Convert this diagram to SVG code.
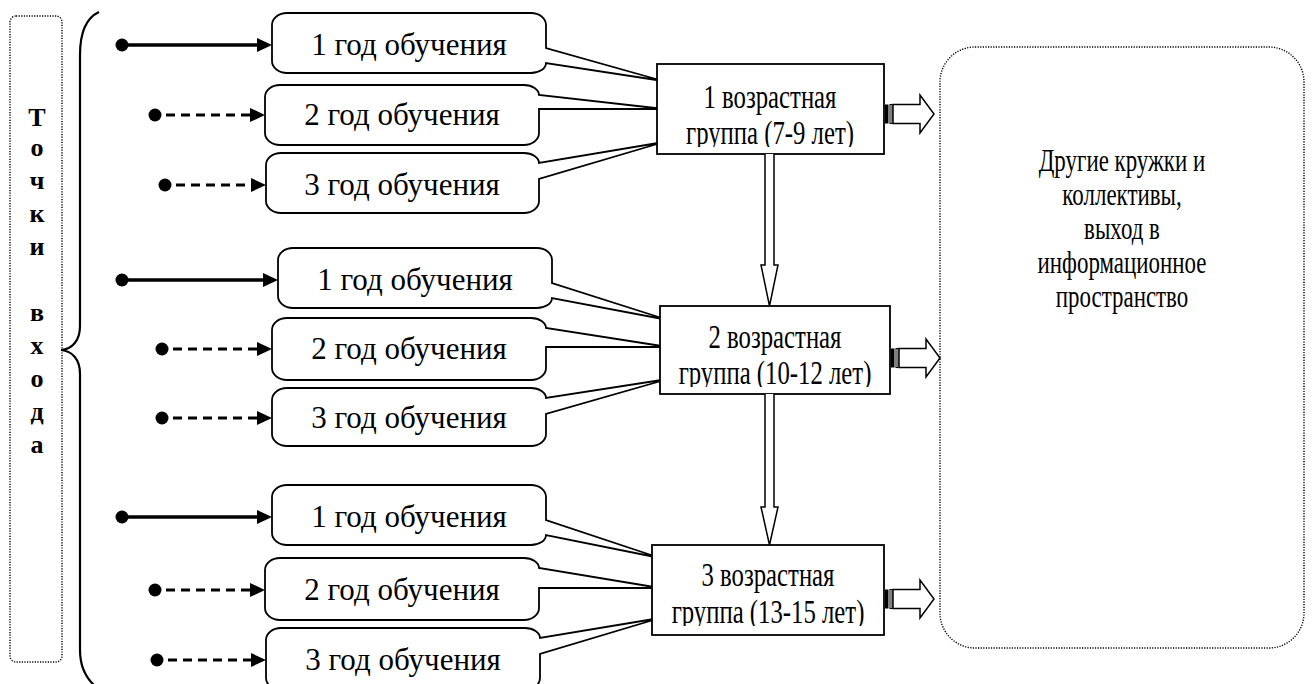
<svg xmlns="http://www.w3.org/2000/svg" width="1316" height="684" viewBox="0 0 1316 684">
  <style>
    .bg { fill: #ffffff; }
    .dotted { fill: none; stroke: #000; stroke-width: 1.4; stroke-dasharray: 1.2 1.4; }
    .callout { fill: #ffffff; stroke: #000; stroke-width: 1.8; stroke-linejoin: miter; }
    .group-box { fill: #ffffff; stroke: #000; stroke-width: 1.8; }
    .year { font-family: "Liberation Serif", "Times New Roman", serif; font-size: 31px; fill: #000; text-anchor: middle; }
    .age { font-family: "Liberation Serif", "Times New Roman", serif; font-size: 33px; fill: #000; text-anchor: middle; }
    .side { font-family: "Liberation Serif", "Times New Roman", serif; font-size: 31px; fill: #000; text-anchor: middle; }
    .letter { font-family: "Liberation Serif", "Times New Roman", serif; font-size: 26px; font-weight: bold; fill: #000; text-anchor: middle; }
    .brace { fill: none; stroke: #000; stroke-width: 2.2; }
    .solid { fill: none; stroke: #000; stroke-width: 3.4; }
    .dashed { fill: none; stroke: #000; stroke-width: 3; stroke-dasharray: 9 6; }
    .dot { fill: #000; }
    .head { fill: #000; }
    .hollow { fill: #ffffff; stroke: #000; stroke-width: 1.5; stroke-linejoin: miter; }
  </style>
  <defs>
    <!-- striped block arrow pointing right, origin at tail centre -->
    <g id="stripe-arrow">
      <rect x="0" y="-9.5" width="3.5" height="19" fill="#000"/>
      <rect x="5" y="-9.5" width="2" height="19" fill="#fff" stroke="#000" stroke-width="1"/>
      <path d="M8,-9.5 H35 V-19 L49,0 L35,19 V9.5 H8 Z" class="hollow"/>
    </g>
    <!-- filled arrowhead, tip at origin pointing right -->
    <path id="tip" d="M-15,-7 L0,0 L-15,7 Z"/>
    <clipPath id="clip-age1"><rect x="657" y="64" width="227" height="83"/></clipPath>
    <clipPath id="clip-age2"><rect x="660" y="306" width="230" height="81"/></clipPath>
    <clipPath id="clip-age3"><rect x="652" y="545" width="232" height="81"/></clipPath>
  </defs>

  <rect class="bg" x="0" y="0" width="1316" height="684"/>

  <!-- entry points column -->
  <g id="entry-points">
    <rect class="dotted" x="10" y="16" width="52" height="646" rx="6"/>
    <text class="letter" x="37" y="126">Т</text>
    <text class="letter" x="37" y="156">о</text>
    <text class="letter" x="37" y="189">ч</text>
    <text class="letter" x="37" y="222">к</text>
    <text class="letter" x="37" y="255">и</text>
    <text class="letter" x="37" y="321">в</text>
    <text class="letter" x="37" y="354">х</text>
    <text class="letter" x="37" y="387">о</text>
    <text class="letter" x="37" y="420">д</text>
    <text class="letter" x="37" y="453">а</text>
  </g>

  <g id="brace">
    <path class="brace" d="M99,12 C86,18 80,32 80,55 V326 C80,341 72,349 61,350 C72,351 80,359 80,374 V650 C80,668 86,678 95,686"/>
  </g>

  <!-- year-of-study callouts, group 1 -->
  <g id="g1-year1">
    <path class="callout" d="M287,13 H531 A15 12 0 0 1 546,25 V48 L663,81 L546,63 A15 10 0 0 1 531,73 H287 A15 12 0 0 1 272,61 V25 A15 12 0 0 1 287,13 Z"/>
    <text class="year" x="409" y="55">1 год обучения</text>
  </g>
  <g id="g1-year2">
    <path class="callout" d="M280,85 H524 A15 10 0 0 1 539,95 L664,109 L539,109 V133 A15 12 0 0 1 524,145 H280 A15 12 0 0 1 265,133 V97 A15 12 0 0 1 280,85 Z"/>
    <text class="year" x="402" y="125">2 год обучения</text>
  </g>
  <g id="g1-year3">
    <path class="callout" d="M281,153 H524 A15 10 0 0 1 539,163 L664,142 L539,179 V201 A15 12 0 0 1 524,213 H281 A15 12 0 0 1 266,201 V165 A15 12 0 0 1 281,153 Z"/>
    <text class="year" x="402" y="195">3 год обучения</text>
  </g>

  <!-- group 2 -->
  <g id="g2-year1">
    <path class="callout" d="M293,248 H537 A15 12 0 0 1 552,260 V283 L668,320 L552,298 A15 10 0 0 1 537,308 H293 A15 12 0 0 1 278,296 V260 A15 12 0 0 1 293,248 Z"/>
    <text class="year" x="415" y="290">1 год обучения</text>
  </g>
  <g id="g2-year2">
    <path class="callout" d="M287,318 H531 A15 10 0 0 1 546,328 L668,347 L546,347 V368 A15 12 0 0 1 531,380 H287 A15 12 0 0 1 272,368 V330 A15 12 0 0 1 287,318 Z"/>
    <text class="year" x="409" y="359">2 год обучения</text>
  </g>
  <g id="g2-year3">
    <path class="callout" d="M287,388 H531 A15 10 0 0 1 546,398 L668,379 L546,414 V434 A15 12 0 0 1 531,446 H287 A15 12 0 0 1 272,434 V400 A15 12 0 0 1 287,388 Z"/>
    <text class="year" x="409" y="428">3 год обучения</text>
  </g>

  <!-- group 3 -->
  <g id="g3-year1">
    <path class="callout" d="M287,485 H531 A15 12 0 0 1 546,497 V520 L660,558 L546,535 A15 10 0 0 1 531,545 H287 A15 12 0 0 1 272,533 V497 A15 12 0 0 1 287,485 Z"/>
    <text class="year" x="409" y="527">1 год обучения</text>
  </g>
  <g id="g3-year2">
    <path class="callout" d="M280,558 H524 A15 10 0 0 1 539,568 L660,588 L539,588 V608 A15 12 0 0 1 524,620 H280 A15 12 0 0 1 265,608 V570 A15 12 0 0 1 280,558 Z"/>
    <text class="year" x="402" y="600">2 год обучения</text>
  </g>
  <g id="g3-year3">
    <path class="callout" d="M281,628 H525 A15 10 0 0 1 540,638 L660,618 L540,654 V678 A15 12 0 0 1 525,690 H281 A15 12 0 0 1 266,678 V640 A15 12 0 0 1 281,628 Z"/>
    <text class="year" x="403" y="670">3 год обучения</text>
  </g>

  <!-- age groups -->
  <g id="age-group-1">
    <rect class="group-box" x="657" y="64" width="227" height="90"/>
    <g clip-path="url(#clip-age1)">
      <text class="age" transform="translate(770,0) scale(0.75,1)" x="0" y="108">1 возрастная</text>
      <text class="age" transform="translate(770,0) scale(0.75,1)" x="0" y="144">группа (7-9 лет)</text>
    </g>
  </g>
  <g id="age-group-2">
    <rect class="group-box" x="660" y="306" width="230" height="88"/>
    <g clip-path="url(#clip-age2)">
      <text class="age" transform="translate(775,0) scale(0.75,1)" x="0" y="348">2 возрастная</text>
      <text class="age" transform="translate(775,0) scale(0.75,1)" x="0" y="384">группа (10-12 лет)</text>
    </g>
  </g>
  <g id="age-group-3">
    <rect class="group-box" x="652" y="545" width="232" height="90"/>
    <g clip-path="url(#clip-age3)">
      <text class="age" transform="translate(768,0) scale(0.75,1)" x="0" y="586">3 возрастная</text>
      <text class="age" transform="translate(768,0) scale(0.75,1)" x="0" y="623">группа (13-15 лет)</text>
    </g>
  </g>

  <!-- other clubs -->
  <g id="other-clubs">
    <rect class="dotted" x="940" y="47" width="364" height="601" rx="35"/>
    <g transform="translate(1122,0) scale(0.74,1)">
      <text class="side" x="0" y="171">Другие кружки и</text>
      <text class="side" x="0" y="205">коллективы,</text>
      <text class="side" x="0" y="239">выход в</text>
      <text class="side" x="0" y="273">информационное</text>
      <text class="side" x="0" y="307">пространство</text>
    </g>
  </g>

  <!-- connectors -->
  <g id="connectors">
    <!-- entry lines -->
    <circle class="dot" cx="122" cy="45" r="6.5"/>
    <line class="solid" x1="122" y1="45" x2="260" y2="45"/>
    <use href="#tip" class="head" transform="translate(272,45)"/>
    <circle class="dot" cx="155" cy="115" r="6.5"/>
    <line class="dashed" x1="166" y1="115" x2="252" y2="115"/>
    <use href="#tip" class="head" transform="translate(265,115)"/>
    <circle class="dot" cx="165" cy="185" r="6.5"/>
    <line class="dashed" x1="176" y1="185" x2="253" y2="185"/>
    <use href="#tip" class="head" transform="translate(266,185)"/>

    <circle class="dot" cx="122" cy="280" r="6.5"/>
    <line class="solid" x1="122" y1="280" x2="266" y2="280"/>
    <use href="#tip" class="head" transform="translate(278,280)"/>
    <circle class="dot" cx="162" cy="349" r="6.5"/>
    <line class="dashed" x1="173" y1="349" x2="259" y2="349"/>
    <use href="#tip" class="head" transform="translate(272,349)"/>
    <circle class="dot" cx="162" cy="418" r="6.5"/>
    <line class="dashed" x1="173" y1="418" x2="259" y2="418"/>
    <use href="#tip" class="head" transform="translate(272,418)"/>

    <circle class="dot" cx="122" cy="517" r="6.5"/>
    <line class="solid" x1="122" y1="517" x2="260" y2="517"/>
    <use href="#tip" class="head" transform="translate(272,517)"/>
    <circle class="dot" cx="155" cy="590" r="6.5"/>
    <line class="dashed" x1="166" y1="590" x2="252" y2="590"/>
    <use href="#tip" class="head" transform="translate(265,590)"/>
    <circle class="dot" cx="157" cy="660" r="6.5"/>
    <line class="dashed" x1="168" y1="660" x2="253" y2="660"/>
    <use href="#tip" class="head" transform="translate(266,660)"/>

    <!-- transitions between age groups -->
    <path class="hollow" d="M765,154 V265 H761 L769.5,306 L778,265 H774 V154"/>
    <path class="hollow" d="M765,394 V507 H761 L769.5,545 L778,507 H774 V394"/>

    <!-- exits to other clubs -->
    <use href="#stripe-arrow" transform="translate(885,114)"/>
    <use href="#stripe-arrow" transform="translate(891,358)"/>
    <use href="#stripe-arrow" transform="translate(885,599)"/>
  </g>
</svg>
